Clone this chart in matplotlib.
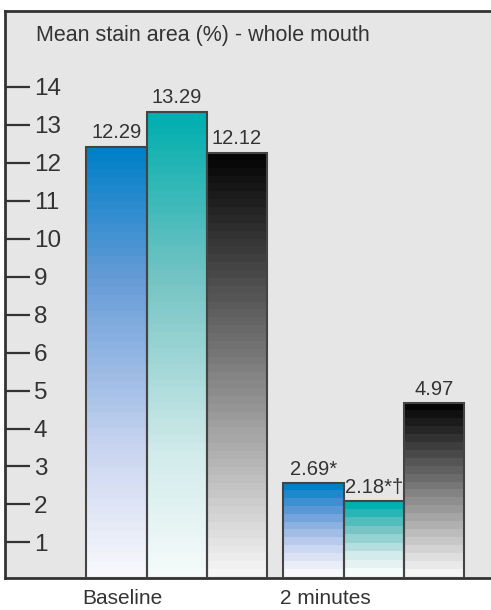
import matplotlib
matplotlib.use('Agg')
import matplotlib.pyplot as plt
import numpy as np
from matplotlib.colors import LinearSegmentedColormap

plt.rcParams['font.family'] = ['Liberation Sans', 'DejaVu Sans']

groups = ['Baseline', '2 minutes']
blue_vals = [12.29, 2.69]
teal_vals = [13.29, 2.18]
black_vals = [12.12, 4.97]
bar_labels = [['12.29', '13.29', '12.12'], ['2.69*', '2.18*\u2020', '4.97']]
ytick_labels = [1, 2, 3, 4, 5, 6, 8, 9, 10, 11, 12, 13, 14]   # no 7 in the original
title = 'Mean stain area (%) - whole mouth'

txt = '#333333'
edge = '#444444'

# gradient colours, bottom (0) -> top (1)
cmaps = [
    LinearSegmentedColormap.from_list('blue', [(0, '#f8f8fc'), (0.3, '#c8d4f0'), (0.7, '#649bd7'), (1, '#0080c8')]),
    LinearSegmentedColormap.from_list('teal', [(0, '#f5fafa'), (0.26, '#d2ebeb'), (0.65, '#73c3c3'), (1, '#00afaf')]),
    LinearSegmentedColormap.from_list('black', [(0, '#f5f5f5'), (1, '#050505')]),
]

fig = plt.figure(figsize=(4.91, 6.10), dpi=100)
ax = fig.add_axes([5.3 / 491, 32.5 / 610, 486 / 491, 566.5 / 610])
ax.set_facecolor('#e6e6e6')

width = 1.0
group_start = [0, 3.27]
series = [blue_vals, teal_vals, black_vals]
for g, x0 in enumerate(group_start):
    for s, vals in enumerate(series):
        x = x0 + s
        h = vals[g]
        n = max(int(h * 4.5), 8)
        grad = np.linspace(1, 0, n).reshape(-1, 1)
        ax.imshow(grad, cmap=cmaps[s], vmin=0, vmax=1, extent=(x - width / 2, x + width / 2, 0, h),
                  aspect='auto', interpolation='nearest', zorder=2)
        ax.bar(x, h, width, facecolor='none', edgecolor=edge, linewidth=1.5, zorder=3)
        ax.annotate(bar_labels[g][s], (x, h), xytext=(0, 3), textcoords='offset points',
                    ha='center', va='bottom', fontsize=14.5, color=txt)

ax.set_xlim(-1.843, 6.216)
ax.set_ylim(0, 16.16)

# labels are spread evenly from first to last, as in the original
ypos = np.linspace(ytick_labels[0], ytick_labels[-1], len(ytick_labels))
ax.set_yticks(ypos, [str(v) for v in ytick_labels])
ax.tick_params(axis='y', direction='in', length=18, width=1.6, color=txt, pad=-20.5,
               labelsize=17.5, labelcolor=txt)
for lab in ax.get_yticklabels():
    lab.set_horizontalalignment('left')

ax.set_xticks([x0 - width / 2 - 0.06 for x0 in group_start], groups)
ax.tick_params(axis='x', length=0, pad=8.5, labelsize=15, labelcolor=txt)
for lab in ax.get_xticklabels():
    lab.set_horizontalalignment('left')

for sp in ['left', 'top', 'bottom']:
    ax.spines[sp].set_color(txt)
    ax.spines[sp].set_linewidth(2)
ax.spines['right'].set_visible(False)

ax.text(0.0626, 0.9465, title, transform=ax.transAxes, fontsize=15.5, color=txt, va='baseline')

fig.savefig('out.png', dpi=100)
